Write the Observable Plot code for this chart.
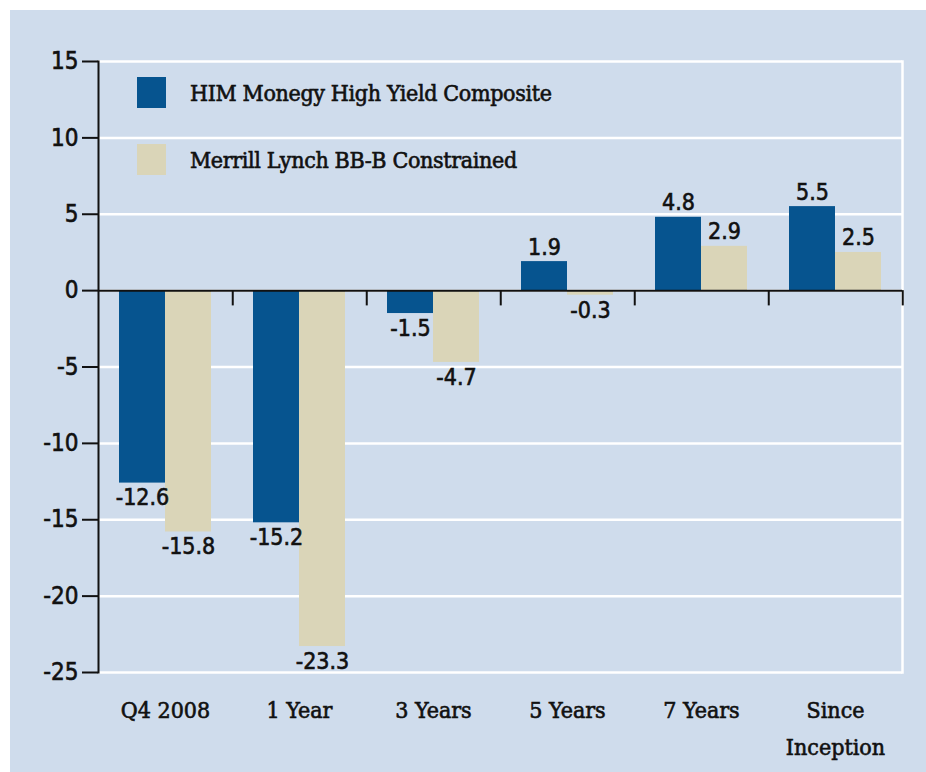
<!DOCTYPE html>
<html>
<head>
<meta charset="utf-8">
<script src="https://cdn.jsdelivr.net/npm/d3@7"></script>
<script src="https://cdn.jsdelivr.net/npm/@observablehq/plot@0.6"></script>
<style>
  html, body { margin: 0; padding: 0; background: #ffffff; }
  #wrap { position: relative; width: 926px; height: 772px; overflow: hidden; background: #ffffff; }
  #panel { position: absolute; left: 10px; top: 10px; right: 0; bottom: 0; background: #cfdcec; }
  #chart { position: absolute; left: 0; top: 0; }
  #chart svg text { stroke: #111; stroke-width: 0.6px; }
  #legend { position: absolute; left: 137px; top: 77px; font-family: "DejaVu Serif Condensed", "DejaVu Serif", serif; font-size: 23px; letter-spacing: -0.35px; color: #111; -webkit-text-stroke: 0.6px #111; }
  .item { position: absolute; left: 0; display: flex; align-items: center; white-space: nowrap; }
  .sw { width: 29px; height: 31px; margin-right: 24px; flex: none; }
</style>
</head>
<body>
<div id="wrap">
  <div id="panel"></div>
  <div id="chart"></div>
  <div id="legend"></div>
</div>
<script>
const categories = ["Q4 2008", "1 Year", "3 Years", "5 Years", "7 Years", "Since Inception"];
const seriesNames = ["HIM Monegy High Yield Composite", "Merrill Lynch BB-B Constrained"];
const himValues = [-12.6, -15.2, -1.5, 1.9, 4.8, 5.5];
const mlValues = [-15.8, -23.3, -4.7, -0.3, 2.9, 2.5];
const yTicks = [15, 10, 5, 0, -5, -10, -15, -20, -25];
const seriesColors = ["#06548f", "#dad5b8"];

const data = [];
categories.forEach((c, i) => {
  data.push({category: c, series: seriesNames[0], value: himValues[i]});
  data.push({category: c, series: seriesNames[1], value: mlValues[i]});
});

const W = 926, H = 772, mL = 96, mR = 23, mT = 61, mB = 100;
const step = (W - mL - mR) / categories.length;
const numFont = "'DejaVu Sans Condensed', 'DejaVu Sans', sans-serif";
const serifFont = "'DejaVu Serif Condensed', 'DejaVu Serif', serif";
const fmt = v => v.toFixed(1);

const chart = Plot.plot({
  width: W,
  height: H,
  marginLeft: mL,
  marginRight: mR,
  marginTop: mT,
  marginBottom: mB,
  style: {background: "transparent", color: "#111", fontFamily: numFont, overflow: "visible"},
  fx: {domain: categories, padding: 0, label: null, axis: null},
  x: {domain: seriesNames, paddingInner: 0, paddingOuter: 0.43, axis: null},
  y: {domain: [-25, 15], axis: null},
  color: {domain: seriesNames, range: seriesColors},
  marks: [
    Plot.gridY(yTicks, {stroke: "#ffffff", strokeOpacity: 1, strokeWidth: 2.5}),
    Plot.frame({anchor: "right", facetAnchor: "right", stroke: "#ffffff", strokeWidth: 2.5}),
    Plot.barY(data, {fx: "category", x: "series", y: "value", fill: "series"}),
    Plot.ruleY([0], {stroke: "#111", strokeWidth: 2}),
    Plot.ruleX([{}], {x: null, y1: 0, y2: -1, dx: step / 2, stroke: "#111", strokeWidth: 2}),
    Plot.frame({anchor: "left", facetAnchor: "left", stroke: "#111", strokeWidth: 2}),
    Plot.axisY(yTicks, {anchor: "left", tickSize: 16, tickPadding: 4, fontSize: 24, stroke: "#111", strokeWidth: 2, fill: "#111", tickFormat: d => String(d), label: null}),
    Plot.axisFx({anchor: "bottom", tickSize: 0, tickPadding: 19, fontSize: 23, fontFamily: serifFont, lineHeight: 1.62, fill: "#111", label: null, tickFormat: d => d.replace(" Inception", "\nInception")}),
    Plot.text(data.filter(d => d.value >= 0), {fx: "category", x: "series", y: "value", text: d => fmt(d.value), lineAnchor: "bottom", dy: -7, fontSize: 23, fill: "#111"}),
    Plot.text(data.filter(d => d.value < 0), {fx: "category", x: "series", y: "value", text: d => fmt(d.value), lineAnchor: "top", dy: 6, fontSize: 23, fill: "#111"})
  ]
});
document.getElementById("chart").appendChild(chart);

const legend = document.getElementById("legend");
seriesNames.forEach((name, i) => {
  const item = document.createElement("div");
  item.className = "item";
  item.style.top = (i * 67) + "px";
  const sw = document.createElement("div");
  sw.className = "sw";
  sw.style.background = seriesColors[i];
  const label = document.createElement("span");
  label.textContent = name;
  item.appendChild(sw);
  item.appendChild(label);
  legend.appendChild(item);
});
</script>
</body>
</html>
